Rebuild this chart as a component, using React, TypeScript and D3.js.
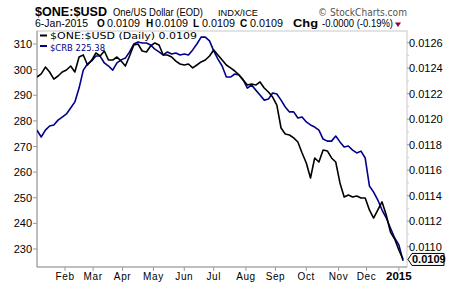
import React from 'react';
import * as d3 from 'd3';

const W = 460;
const H = 284;
const STEP = 3; // sample every 3 trading days from 6-Jan-2014

const oneUsd = [
  0.012331, 0.012355, 0.012409, 0.01237, 0.012315, 0.012339, 0.01237, 0.012386, 0.012417, 0.01237,
  0.012488, 0.012504, 0.012425, 0.012464, 0.012519, 0.012496, 0.012535, 0.012464, 0.012464, 0.012488,
  0.012456, 0.012417, 0.012496, 0.012582, 0.01259, 0.012535, 0.012527, 0.012574, 0.012598, 0.012582,
  0.012504, 0.012504, 0.012488, 0.012456, 0.012433, 0.012425, 0.012433, 0.012402, 0.012425, 0.012449,
  0.012464, 0.012496, 0.012543, 0.012504, 0.012464, 0.012425, 0.012402, 0.012378, 0.012347, 0.012307,
  0.012268, 0.012276, 0.012268, 0.012292, 0.012245, 0.012213, 0.012174, 0.012111, 0.011931, 0.011884,
  0.011876, 0.011853, 0.011821, 0.011735, 0.011656, 0.011539, 0.011696, 0.011664, 0.011758, 0.011751,
  0.011696, 0.011664, 0.0115, 0.01139, 0.011405, 0.01139, 0.011398, 0.011382, 0.011382, 0.011288,
  0.011225, 0.011288, 0.011351, 0.011249, 0.011115, 0.01106, 0.010974, 0.0109,
];

const crb = [
  276.4, 273.7, 276.4, 278.0, 278.4, 280.3, 281.5, 282.7, 285.0, 287.4,
  292.8, 299.8, 302.2, 303.4, 305.3, 305.3, 302.6, 301.4, 299.8, 302.6,
  303.8, 304.5, 306.9, 310.0, 310.8, 310.4, 310.4, 309.6, 308.0, 306.9,
  305.7, 306.9, 306.1, 306.5, 305.7, 306.1, 305.7, 307.7, 310.0, 312.7,
  312.7, 311.2, 307.3, 304.1, 301.4, 297.1, 297.1, 298.3, 297.9, 296.0,
  292.8, 294.0, 292.0, 290.1, 288.1, 288.5, 290.9, 290.5, 288.1, 285.4,
  283.5, 283.5, 281.1, 281.5, 279.6, 278.4, 277.6, 276.4, 272.9, 272.1,
  272.1, 274.1, 271.8, 269.8, 270.2, 268.6, 267.5, 268.2, 265.5, 254.6,
  252.2, 249.1, 245.2, 242.1, 238.2, 234.3, 231.6, 225.38,
];

const monthLabels = ['Feb', 'Mar', 'Apr', 'May', 'Jun', 'Jul', 'Aug', 'Sep', 'Oct', 'Nov', 'Dec', '2015'];
const monthStartIdx = [20, 40, 61, 83, 105, 126, 149, 170, 192, 215, 235, 258];
const leftTicks = [230, 240, 250, 260, 270, 280, 290, 300, 310];
const rightTicks = [0.011, 0.0112, 0.0114, 0.0116, 0.0118, 0.012, 0.0122, 0.0124, 0.0126];
const rightMinor = [0.0109, 0.0111, 0.0113, 0.0115, 0.0117, 0.0119, 0.0121, 0.0123, 0.0125];

const PL = 37, PR = 407, PT = 31, PB = 267;

export default function App() {
  const x = d3.scaleLinear().domain([0, 263.8]).range([PL, PR]);
  const yL = d3.scaleLinear().domain([230, 310]).range([249, 44]);
  const yR = d3.scaleLinear().domain([0.011, 0.0126]).range([246.7, 42.7]);

  const lineOne = d3.line<number>().x((_, i) => x(i * STEP)).y((d) => yR(d));
  const lineCrb = d3.line<number>().x((_, i) => x(i * STEP)).y((d) => yL(d));

  const axisFont = 'Liberation Sans, Arial, sans-serif';
  const lastOne = oneUsd[oneUsd.length - 1];
  const lastY = yR(lastOne);
  const adj = 'spacingAndGlyphs';

  return (
    <svg width={W} height={H} style={{ position: 'absolute', left: 0, top: 0 }} fontFamily={axisFont}>
      <rect x={0} y={0} width={W} height={H} fill="#fff" />
      {/* header */}
      <text x={35} y={16} fontSize={12.5} fontWeight="bold" fill="#000" textLength={72} lengthAdjust={adj}>$ONE:$USD</text>
      <text x={113} y={16} fontSize={10.5} fill="#000" textLength={90} lengthAdjust={adj}>One/US Dollar (EOD)</text>
      <text x={218} y={16} fontSize={9.5} fill="#000" textLength={40} lengthAdjust={adj}>INDX/ICE</text>
      <text x={318} y={16} fontSize={10.5} fill="#555" fontFamily="DejaVu Sans, sans-serif" textLength={89} lengthAdjust={adj}>© StockCharts.com</text>
      <g fontSize={10} fill="#000">
        <text x={35} y={27} textLength={53} lengthAdjust={adj}>6-Jan-2015</text>
        <text x={97} y={27} fontWeight="bold">O</text>
        <text x={107} y={27} textLength={33} lengthAdjust={adj}>0.0109</text>
        <text x={146} y={27} fontWeight="bold">H</text>
        <text x={155} y={27} textLength={33} lengthAdjust={adj}>0.0109</text>
        <text x={193} y={27} fontWeight="bold">L</text>
        <text x={202} y={27} textLength={33} lengthAdjust={adj}>0.0109</text>
        <text x={240} y={27} fontWeight="bold">C</text>
        <text x={250} y={27} textLength={33} lengthAdjust={adj}>0.0109</text>
        <text x={293} y={27} fontWeight="bold" textLength={25} lengthAdjust={adj}>Chg</text>
        <text x={322} y={27} textLength={71} lengthAdjust={adj}>-0.0000 (-0.19%)</text>
      </g>
      <path d="M395,22.5 L401,22.5 L398,27 Z" fill="#99003d" />

      {/* plot frame */}
      <rect x={PL} y={PT} width={PR - PL} height={PB - PT} fill="none" stroke="#c8c8c8" strokeWidth={1} />
      <line x1={PL} y1={PT} x2={PL} y2={PB} stroke="#9a9a9a" />
      <line x1={PL} y1={PB} x2={PR} y2={PB} stroke="#9a9a9a" />

      <defs>
        <clipPath id="plotClip">
          <rect x={PL} y={PT} width={PR - PL} height={PB - PT} />
        </clipPath>
      </defs>

      {/* left axis */}
      {leftTicks.map((t) => (
        <g key={'l' + t}>
          <line x1={PL - 4} x2={PL} y1={yL(t)} y2={yL(t)} stroke="#9a9a9a" />
          <text x={32} y={yL(t) + 4} fontSize={11} textAnchor="end" fill="#000">{t}</text>
        </g>
      ))}

      {/* right axis */}
      {rightMinor.map((t) => (
        <line key={'rm' + t} x1={PR} x2={PR + 2} y1={yR(t)} y2={yR(t)} stroke="#cfcfcf" />
      ))}
      {rightTicks.map((t) => (
        <g key={'r' + t}>
          <line x1={PR} x2={PR + 3} y1={yR(t)} y2={yR(t)} stroke="#9a9a9a" />
          <text x={409} y={yR(t) + 4} fontSize={11} fill="#000">{t.toFixed(4)}</text>
        </g>
      ))}

      {/* bottom axis */}
      {monthStartIdx.map((m, i) => (
        <g key={'m' + m}>
          <line x1={x(m)} x2={x(m)} y1={PB} y2={PB + 4} stroke="#9a9a9a" />
          <text
            x={x(m)}
            y={280}
            fontSize={i === monthLabels.length - 1 ? 11.5 : 10}
            fontWeight={i === monthLabels.length - 1 ? 'bold' : 'normal'}
            letterSpacing={i === monthLabels.length - 1 ? 0 : 0.6}
            textAnchor="middle"
            fill="#000"
          >
            {monthLabels[i]}
          </text>
        </g>
      ))}

      {/* series */}
      <g clipPath="url(#plotClip)">
        <path d={lineCrb(crb) || ''} fill="none" stroke="#00008b" strokeWidth={1.6} strokeLinejoin="round" />
        <path d={lineOne(oneUsd) || ''} fill="none" stroke="#000" strokeWidth={1.6} strokeLinejoin="round" />
      </g>

      {/* legend */}
      <line x1={40} x2={47} y1={35.5} y2={35.5} stroke="#000" strokeWidth={2} />
      <text x={50} y={39} fontSize={9.5} fontFamily="DejaVu Sans, sans-serif" fill="#000" textLength={147} lengthAdjust={adj}>
        $ONE:$USD (Daily) 0.0109
      </text>
      <line x1={40} x2={47} y1={46} y2={46} stroke="#00008b" strokeWidth={2} />
      <text x={50} y={50.5} fontSize={9.5} fontFamily="DejaVu Sans, sans-serif" fill="#00008b" textLength={55} lengthAdjust={adj}>
        $CRB 225.38
      </text>

      {/* last value tag */}
      <path
        d={`M${PR + 1},${lastY} L${PR + 5},${lastY - 6} L444,${lastY - 6} L444,${lastY + 6} L${PR + 5},${lastY + 6} Z`}
        fill="#fff"
        stroke="#000"
        strokeWidth={1}
      />
      <text x={412} y={lastY + 4} fontSize={11} fontWeight="bold" fill="#000">{lastOne.toFixed(4)}</text>
    </svg>
  );
}
